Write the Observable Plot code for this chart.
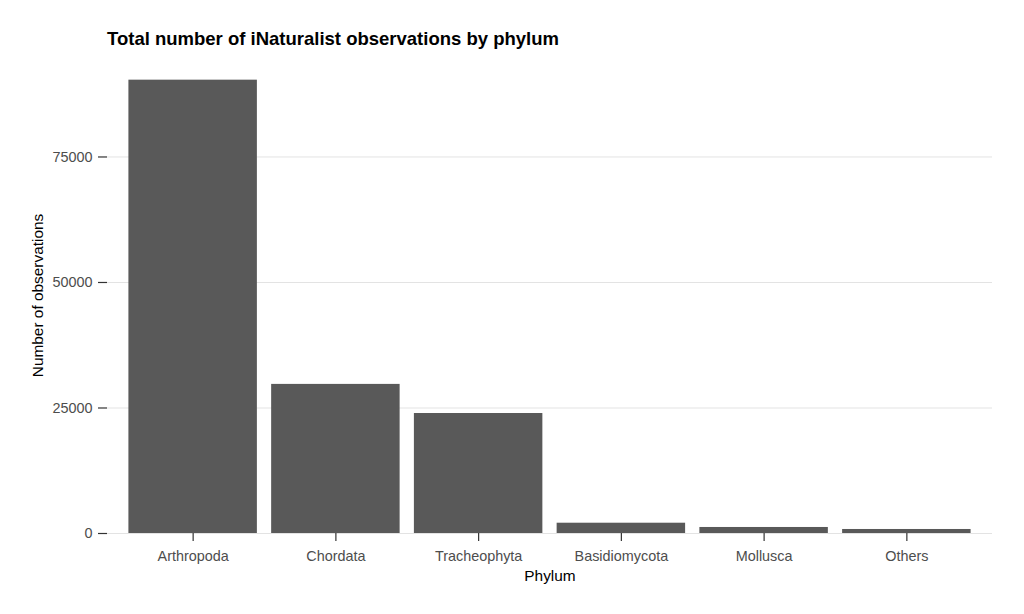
<!DOCTYPE html>
<html>
<head>
<meta charset="utf-8">
<script src="https://cdn.jsdelivr.net/npm/d3@7"></script>
<script src="https://cdn.jsdelivr.net/npm/@observablehq/plot@0.6"></script>
<style>
  body { margin: 0; background: #fff; font-family: "Liberation Sans", Arial, sans-serif; }
  #wrap { position: relative; width: 1024px; height: 614px; }
  #title { position: absolute; left: 107px; top: 28px; font-size: 18.5px; font-weight: bold; color: #000; white-space: nowrap; }
  #chart { position: absolute; left: 0; top: 0; }
</style>
</head>
<body>
<div id="wrap">
  <div id="chart"></div>
  <div id="title">Total number of iNaturalist observations by phylum</div>
</div>
<script>
const phyla = ["Arthropoda", "Chordata", "Tracheophyta", "Basidiomycota", "Mollusca", "Others"];
const counts = [90300, 29700, 23900, 2050, 1200, 800];
const yTicks = [0, 25000, 50000, 75000];

const data = phyla.map((p, i) => ({phylum: p, n: counts[i]}));
const yMax = d3.max(counts) * 1.05;

const chart = Plot.plot({
  width: 1024,
  height: 614,
  marginLeft: 107,
  marginRight: 32,
  marginTop: 57,
  marginBottom: 81,
  style: {fontFamily: "'Liberation Sans', Arial, sans-serif", fontSize: "14.4px", background: "#fff"},
  x: {domain: phyla, paddingInner: 0.1, paddingOuter: 0.15, round: false, label: null},
  y: {domain: [0, yMax], label: null},
  marks: [
    Plot.ruleY(yTicks, {stroke: "#e3e3e3", strokeWidth: 1}),
    Plot.barY(data, {x: "phylum", y: "n", fill: "#595959"}),
    Plot.axisY({ticks: yTicks, tickFormat: d => String(d), tickSize: 9, tickPadding: 6, stroke: "#333", fill: "#4d4d4d", fontSize: 14.4, label: null, strokeWidth: 1.2}),
    Plot.axisX({tickSize: 8, tickPadding: 9, stroke: "#333", fill: "#4d4d4d", fontSize: 14.4, label: null, strokeWidth: 1.2}),
    Plot.text(["Phylum"], {frameAnchor: "bottom", dy: 47, fontSize: 15.4, fill: "#000"}),
    Plot.text(["Number of observations"], {frameAnchor: "left", textAnchor: "middle", dx: -69, rotate: -90, fontSize: 15.4, fill: "#000"})
  ]
});
document.getElementById("chart").appendChild(chart);
</script>
</body>
</html>
